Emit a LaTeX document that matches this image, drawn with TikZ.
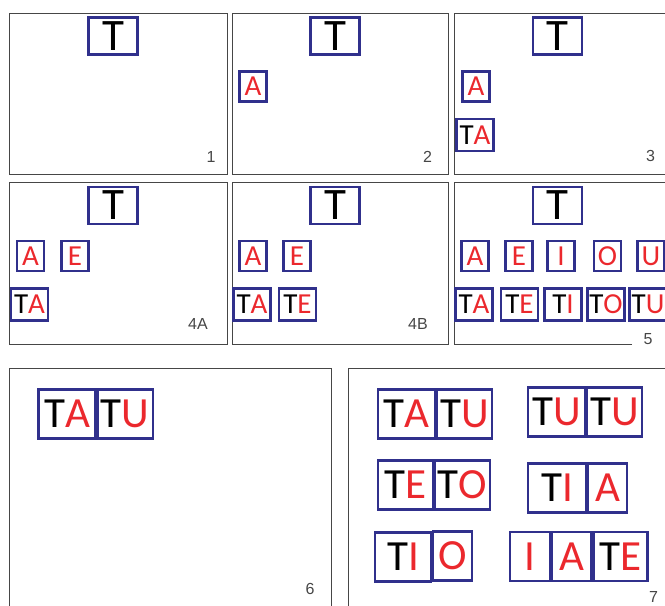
\documentclass[tikz,border=0pt]{standalone}
\usepackage{fontspec}
\setmainfont{Carlito}
\newfontfamily\numfont{Liberation Sans}
\usetikzlibrary{positioning}
\definecolor{tileBlue}{RGB}{48,48,140}
\definecolor{vowelRed}{RGB}{235,40,45}
\definecolor{frameGray}{RGB}{70,70,70}
\newcommand{\vow}[1]{\textcolor{vowelRed}{#1}}

\begin{document}
\begin{tikzpicture}[x=1pt, y=-1pt,
    tile/.style={draw=tileBlue, line width=2.2pt, inner sep=0pt},
    bigT/.style={tile, minimum width=49pt, minimum height=37pt, font=\fontsize{45}{45}\selectfont},
    vowel/.style={tile, minimum width=27pt, minimum height=30pt, font=\fontsize{29}{29}\selectfont},
    pair/.style={tile, minimum width=37pt, minimum height=32pt, font=\fontsize{29}{29}\selectfont},
    cell/.style={tile, minimum height=49pt, font=\fontsize{43}{43}\selectfont},
    frame/.style={draw=frameGray, line width=1pt},
    num/.style={text=frameGray, inner sep=0pt, font=\numfont\fontsize{16}{16}\selectfont}]
    \useasboundingbox (0,0) rectangle (665,606);
    \clip (0,0) rectangle (665,606);
    % frames of the seven steps
    \draw[frame] (9.5,13) rectangle (227,174.5);
    \draw[frame] (232,13) rectangle (448,174.5);
    \draw[frame] (454.5,13) rectangle (690,174.5);
    \draw[frame] (9.5,182) rectangle (227,344);
    \draw[frame] (232,182) rectangle (448,344);
    \draw[frame] (632,344) -- (454.5,344) -- (454.5,182) -- (690,182);
    \draw[frame] (9,368) rectangle (331.5,620);
    \draw[frame] (348,368) rectangle (690,620);
    % step 1
    \node[bigT] (p1t) at (113,36) {T};
    \node[num] (n1) at (211,157) {1};
    % step 2
    \node[bigT] (p2t) at (335,36) {T};
    \node[vowel] (p2a) at (253,86.5) {\vow{A}};
    \node[num] (n2) at (427.5,157) {2};
    % step 3
    \node[bigT] (p3t) at (557.5,36) {T};
    \node[vowel] (p3a) at (476,86.5) {\vow{A}};
    \node[pair] (p3ta) at (475,135) {T\vow{A}};
    \node[num] (n3) at (650.5,156) {3};
    % step 4A
    \node[bigT] (p4t) at (113,205.5) {T};
    \node[vowel] (p4a) at (30.5,256) {\vow{A}};
    \node[vowel] (p4e) at (75,256) {\vow{E}};
    \node[pair] (p4ta) at (29.5,304.5) {T\vow{A}};
    \node[num] (n4a) at (198,324) {4A};
    % step 4B
    \node[bigT] (q4t) at (335,205.5) {T};
    \node[vowel] (q4a) at (253,256) {\vow{A}};
    \node[vowel] (q4e) at (297,256) {\vow{E}};
    \node[pair] (q4ta) at (252,304.5) {T\vow{A}};
    \node[pair] (q4te) at (297.5,304.5) {T\vow{E}};
    \node[num] (n4b) at (418,324) {4B};
    % step 5: all five vowels and their syllables
    \node[bigT] (p5t) at (557.5,205.5) {T};
    \foreach \v/\x in {A/475, E/519, I/561, O/607.5, U/651}
      \node[vowel] (p5v\v) at (\x,256) {\vow{\v}};
    \foreach \v/\x in {A/474, E/519.5, I/563, O/606, U/648}
      \node[pair] (p5p\v) at (\x,304.5) {T\vow{\v}};
    \node[num] (n5) at (648,339.5) {5};
    % step 6
    \node[cell, minimum width=57pt] (p6c1) at (67,414) {T\vow{A}};
    \node[cell, minimum width=55pt, right=0pt of p6c1] (p6c2) {T\vow{U}};
    \node[num] (n6) at (310,588.5) {6};
    % step 7: words from the syllables
    \node[cell, minimum width=57pt] (tatu1) at (406.5,414) {T\vow{A}};
    \node[cell, minimum width=55pt, right=0pt of tatu1] (tatu2) {T\vow{U}};
    \node[cell, minimum width=57pt] (tutu1) at (556.5,412) {T\vow{U}};
    \node[cell, minimum width=55pt, right=0pt of tutu1] (tutu2) {T\vow{U}};
    \node[cell, minimum width=55pt] (teto1) at (405.5,485) {T\vow{E}};
    \node[cell, minimum width=55pt, right=0pt of teto1] (teto2) {T\vow{O}};
    \node[cell, minimum width=58pt] (tia1) at (557,488) {T\vow{I}};
    \node[cell, minimum width=39pt, right=0pt of tia1] (tia2) {\vow{A}};
    \node[cell, minimum width=56pt] (tio1) at (403,557) {T\vow{I}};
    \node[cell, minimum width=39pt, right=0pt of tio1, yshift=1pt] (tio2) {\vow{O}};
    \node[cell, minimum width=40pt] (iate1) at (530,556.5) {\vow{I}};
    \node[cell, minimum width=39pt, right=0pt of iate1] (iate2) {\vow{A}};
    \node[cell, minimum width=54pt, right=0pt of iate2] (iate3) {T\vow{E}};
    \node[num] (n7) at (653.5,597) {7};
\end{tikzpicture}
\end{document}
